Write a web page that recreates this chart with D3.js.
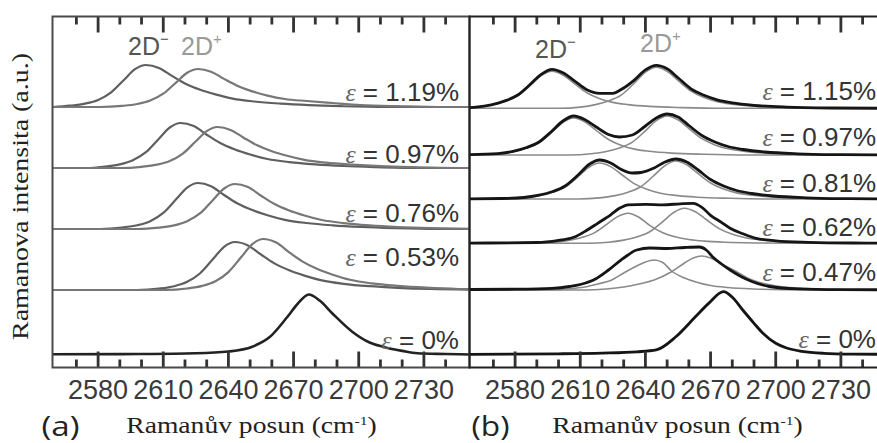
<!DOCTYPE html>
<html>
<head>
<meta charset="utf-8">
<script src="https://cdn.jsdelivr.net/npm/d3@7"></script>
<style>
  body { margin: 0; background: #fff; }
  svg { display: block; }
</style>
</head>
<body>
<svg id="chart" width="877" height="443" viewBox="0 0 877 443"></svg>
<script>
// --- data (wavenumber cm-1, intensity a.u. above each baseline) ---
const xDomain = [2559, 2751];
const majorTicks = [2580, 2610, 2640, 2670, 2700, 2730];
const minorTicks = [2570, 2590, 2600, 2620, 2630, 2650, 2660, 2680, 2690, 2710, 2720, 2740];

// panel (a): simulated 2D- / 2D+ bands
const strainA = ["1.19%", "0.97%", "0.76%", "0.53%", "0%"];
const offsetA = [26.1, 20.0, 13.9, 7.8, 1.35];

const a119Minus = [[2559,0],[2567,0.13],[2574,0.34],[2580,0.71],[2586,1.47],[2592,2.73],[2597,3.78],[2602,4.2],[2608,3.91],[2614,3.11],[2620,2.35],[2627,1.72],[2634,1.26],[2642,0.84],[2652,0.55],[2664,0.34],[2677,0.19],[2692,0.08],[2712,0],[2751,0]];
const a119Plus = [[2559,0],[2581,0],[2591,0.11],[2598,0.3],[2604,0.65],[2610,1.33],[2616,2.47],[2621,3.42],[2626,3.8],[2632,3.53],[2638,2.81],[2644,2.13],[2651,1.56],[2658,1.14],[2666,0.8],[2676,0.6],[2688,0.4],[2701,0.2],[2716,0.08],[2736,0],[2751,0]];
const a097Minus = [[2559,0],[2575,0],[2583,0.14],[2590,0.36],[2596,0.77],[2602,1.58],[2608,2.93],[2613,4.05],[2618,4.5],[2624,4.19],[2630,3.33],[2636,2.52],[2643,1.85],[2650,1.35],[2658,0.9],[2668,0.59],[2680,0.36],[2693,0.2],[2708,0.09],[2728,0],[2751,0]];
const a097Plus = [[2559,0],[2590,0],[2600,0.12],[2607,0.33],[2613,0.7],[2619,1.44],[2625,2.67],[2630,3.69],[2635,4.1],[2641,3.81],[2647,3.03],[2653,2.3],[2660,1.68],[2667,1.23],[2675,0.82],[2685,0.53],[2697,0.33],[2710,0.18],[2725,0.08],[2745,0],[2751,0]];
const a076Minus = [[2559,0],[2581,0],[2591,0.14],[2598,0.37],[2604,0.78],[2610,1.61],[2616,2.99],[2621,4.14],[2626,4.6],[2632,4.28],[2638,3.4],[2644,2.58],[2651,1.89],[2658,1.38],[2666,0.92],[2676,0.6],[2688,0.37],[2701,0.21],[2716,0.09],[2736,0],[2751,0]];
const a076Plus = [[2559,0],[2598,0],[2608,0.14],[2615,0.36],[2621,0.77],[2627,1.58],[2633,2.93],[2638,4.05],[2643,4.5],[2649,4.19],[2655,3.33],[2661,2.52],[2668,1.85],[2675,1.35],[2683,0.9],[2693,0.59],[2705,0.36],[2718,0.2],[2733,0.09],[2751,0.02]];
const a053Minus = [[2559,0],[2598,0],[2608,0.14],[2615,0.38],[2621,0.82],[2627,1.68],[2633,3.12],[2638,4.32],[2643,4.8],[2649,4.46],[2655,3.55],[2661,2.69],[2668,1.97],[2675,1.44],[2683,0.96],[2693,0.62],[2705,0.38],[2718,0.22],[2733,0.1],[2751,0.03]];
const a053Plus = [[2559,0],[2611,0],[2621,0.15],[2628,0.41],[2634,0.87],[2640,1.79],[2646,3.32],[2651,4.59],[2656,5.1],[2662,4.74],[2668,3.77],[2674,2.86],[2681,2.09],[2688,1.53],[2696,1.02],[2706,0.66],[2718,0.41],[2731,0.23],[2746,0.1],[2751,0.08]];
const a000 = [[2559,0.02],[2600,0.05],[2625,0.12],[2640,0.3],[2651,0.78],[2659,1.74],[2667,3.72],[2672,5.1],[2677,6.0],[2682,5.4],[2688,4.08],[2697,2.28],[2705,1.2],[2711,0.78],[2720,0.36],[2727,0.12],[2740,0.05],[2751,0]];

// panel (b): measured spectra and fitted components
const strainB = ["1.15%", "0.97%", "0.81%", "0.62%", "0.47%", "0%"];
const offsetB = [25.97, 21.3, 16.9, 12.47, 7.8, 1.37];

const b115Meas = [[2559,0.07],[2562,0.12],[2569,0.35],[2575,0.72],[2581,1.3],[2587,2.4],[2592,3.4],[2597,3.9],[2602,3.55],[2607,2.8],[2613,1.85],[2619,1.5],[2625,1.5],[2629,1.9],[2635,2.85],[2640,3.85],[2645,4.3],[2650,3.95],[2655,3.05],[2661,1.95],[2667,1.3],[2673,0.85],[2680,0.55],[2690,0.3],[2705,0.12],[2725,0.03],[2751,0]];
const b115Minus = [[2559,0.07],[2562,0.11],[2569,0.33],[2575,0.67],[2581,1.22],[2587,2.29],[2592,3.26],[2597,3.7],[2602,3.33],[2607,2.52],[2613,1.55],[2619,0.96],[2625,0.59],[2632,0.37],[2642,0.19],[2657,0.07],[2677,0],[2751,0]];
const b115Plus = [[2559,0],[2600,0],[2610,0.12],[2617,0.37],[2623,0.74],[2629,1.35],[2635,2.54],[2640,3.61],[2645,4.1],[2650,3.69],[2655,2.79],[2661,1.72],[2667,1.07],[2673,0.66],[2680,0.41],[2690,0.21],[2705,0.08],[2725,0],[2751,0]];
const b097Meas = [[2559,0.03],[2572,0.13],[2579,0.36],[2585,0.72],[2591,1.3],[2597,2.4],[2602,3.4],[2607,3.9],[2612,3.55],[2617,2.85],[2623,2.05],[2628,1.8],[2634,2.0],[2640,2.9],[2645,3.7],[2650,4.1],[2655,3.8],[2660,2.95],[2666,1.95],[2672,1.3],[2678,0.85],[2685,0.55],[2695,0.3],[2710,0.12],[2730,0.03],[2751,0]];
const b097Minus = [[2559,0.02],[2572,0.11],[2579,0.33],[2585,0.67],[2591,1.22],[2597,2.29],[2602,3.26],[2607,3.7],[2612,3.33],[2617,2.52],[2623,1.55],[2629,0.96],[2635,0.59],[2642,0.37],[2652,0.19],[2667,0.07],[2687,0],[2751,0]];
const b097Plus = [[2559,0],[2605,0],[2615,0.12],[2622,0.35],[2628,0.7],[2634,1.29],[2640,2.42],[2645,3.43],[2650,3.9],[2655,3.51],[2660,2.65],[2666,1.64],[2672,1.01],[2678,0.62],[2685,0.39],[2695,0.2],[2710,0.08],[2730,0],[2751,0]];
const b081Meas = [[2559,0.02],[2574,0.05],[2584,0.15],[2591,0.38],[2597,0.72],[2603,1.3],[2609,2.4],[2614,3.45],[2619,3.9],[2624,3.6],[2629,2.95],[2634,2.6],[2638,2.65],[2644,3.1],[2649,3.7],[2654,4.0],[2659,3.7],[2664,2.95],[2670,1.95],[2676,1.3],[2682,0.85],[2689,0.55],[2699,0.3],[2714,0.12],[2734,0.03],[2751,0]];
const b081Minus = [[2559,0],[2574,0.02],[2584,0.11],[2591,0.32],[2597,0.65],[2603,1.19],[2609,2.23],[2614,3.17],[2619,3.6],[2624,3.24],[2629,2.45],[2635,1.51],[2641,0.94],[2647,0.58],[2654,0.36],[2664,0.18],[2679,0.07],[2699,0],[2751,0]];
const b081Plus = [[2559,0],[2609,0],[2619,0.11],[2626,0.34],[2632,0.68],[2638,1.25],[2644,2.36],[2649,3.34],[2654,3.8],[2659,3.42],[2664,2.58],[2670,1.6],[2676,0.99],[2682,0.61],[2689,0.38],[2699,0.19],[2714,0.08],[2734,0],[2751,0]];
const b062Meas = [[2559,0.02],[2590,0.08],[2600,0.3],[2607,0.6],[2613,1.3],[2618,2.0],[2624,2.85],[2628,3.5],[2632,3.85],[2640,3.9],[2648,3.85],[2656,3.95],[2662,4.0],[2666,3.6],[2670,2.8],[2675,2.1],[2679,1.5],[2685,0.95],[2691,0.5],[2700,0.25],[2715,0.1],[2735,0.03],[2751,0.02]];
const b062Minus = [[2559,0],[2587,0],[2597,0.09],[2604,0.27],[2610,0.54],[2616,0.99],[2622,1.86],[2627,2.64],[2632,3.0],[2637,2.6],[2642,1.8],[2648,1.05],[2654,0.62],[2660,0.38],[2667,0.22],[2677,0.1],[2692,0.03],[2712,0],[2751,0]];
const b062Plus = [[2559,0],[2613,0],[2623,0.11],[2630,0.32],[2636,0.63],[2642,1.16],[2648,2.17],[2653,3.08],[2658,3.5],[2663,3.15],[2668,2.38],[2674,1.47],[2680,0.91],[2686,0.56],[2693,0.35],[2703,0.18],[2718,0.07],[2738,0],[2751,0]];
const b047Meas = [[2559,0.05],[2580,0.08],[2597,0.17],[2605,0.35],[2610,0.55],[2617,1.1],[2623,2.0],[2630,3.2],[2636,4.0],[2642,4.2],[2650,4.15],[2658,4.25],[2665,4.3],[2668,4.0],[2671,3.3],[2675,2.6],[2679,2.0],[2684,1.35],[2689,0.85],[2697,0.35],[2710,0.12],[2730,0.04],[2751,0.02]];
const b047Minus = [[2559,0],[2595,0],[2605,0.12],[2612,0.3],[2618,0.6],[2624,0.95],[2630,1.7],[2636,2.4],[2640,2.8],[2644,3.0],[2648,2.75],[2652,1.9],[2658,1.2],[2664,0.75],[2670,0.45],[2678,0.25],[2690,0.1],[2705,0.03],[2725,0],[2751,0]];
const b047Plus = [[2559,0],[2612,0],[2622,0.1],[2630,0.3],[2637,0.6],[2644,1.0],[2652,1.83],[2658,2.7],[2662,3.2],[2666,3.4],[2670,3.2],[2676,2.5],[2682,1.83],[2688,1.1],[2694,0.67],[2702,0.35],[2714,0.15],[2730,0.05],[2751,0]];
const b000Meas = [[2559,0],[2600,0.05],[2620,0.12],[2636,0.25],[2645,0.44],[2654,1.75],[2663,3.75],[2669,5.07],[2676,6.26],[2680,5.7],[2685,4.38],[2690,3.1],[2694,2.13],[2700,1.1],[2705,0.63],[2712,0.3],[2722,0.1],[2735,0.02],[2751,0]];

// --- layout ---
const panelW = 417, frameTop = 16.5, frameBottom = 367.5;
const labelLiftA = [6, 5, 7, 24, 6];
const labelLiftB = [8, 9, 7, 7, 9, 6];
const sans = "'Liberation Sans', Arial, Helvetica, sans-serif";
const serif = "'Liberation Serif', 'Times New Roman', serif";

const svg = d3.select("#chart");
const y = d3.scaleLinear().domain([0, 35.2]).range([368, 16]);

const rowsA = strainA.map((s, i) => ({
  strain: s, offset: offsetA[i],
  comps: [[a119Minus, a097Minus, a076Minus, a053Minus, null][i], [a119Plus, a097Plus, a076Plus, a053Plus, null][i]],
  main: i === 4 ? a000 : null
}));
const rowsB = strainB.map((s, i) => ({
  strain: s, offset: offsetB[i],
  comps: [[b115Minus, b097Minus, b081Minus, b062Minus, b047Minus, null][i], [b115Plus, b097Plus, b081Plus, b062Plus, b047Plus, null][i]],
  main: [b115Meas, b097Meas, b081Meas, b062Meas, b047Meas, b000Meas][i]
}));

function drawPanel(x0, rows, opt) {
  const x = d3.scaleLinear().domain(xDomain).range([x0, x0 + panelW]);
  const g = svg.append("g");

  rows.forEach((r, i) => {
    const line = d3.line()
      .x(d => x(d[0]))
      .y(d => y(r.offset + d[1]))
      .curve(d3.curveMonotoneX);
    r.comps.forEach((c, k) => {
      if (!c) return;
      g.append("path").attr("d", line(c))
        .attr("fill", "none")
        .attr("stroke", opt.compColor[k])
        .attr("stroke-width", opt.compWidth);
    });
    if (r.main) {
      g.append("path").attr("d", line(r.main))
        .attr("fill", "none")
        .attr("stroke", opt.mainColor)
        .attr("stroke-width", opt.mainWidth)
        .attr("stroke-linejoin", "round");
    }

    const t = g.append("text")
      .attr("x", opt.labelRight)
      .attr("y", y(r.offset) - opt.lift[i])
      .attr("text-anchor", "end")
      .attr("font-family", sans)
      .attr("font-size", 26)
      .attr("fill", "#333");
    t.append("tspan").attr("font-family", serif).attr("font-style", "italic")
      .attr("fill", "#666").text("ε");
    t.append("tspan").text((r.strain === "0.81%" ? "  = " : " = ") + r.strain);
  });

  // inward ticks on the top and bottom edges
  const tickRun = (vals, y0, dir) => {
    let d = "";
    vals.forEach(v => {
      const len = majorTicks.includes(v) ? 16 : 8;
      d += `M${x(v)},${y0}L${x(v)},${y0 + dir * len}`;
    });
    return d;
  };
  const allTicks = majorTicks.concat(minorTicks).sort((a, b) => a - b);
  g.append("path")
    .attr("d", tickRun(allTicks, frameBottom, -1) + tickRun(allTicks, frameTop, 1))
    .attr("fill", "none")
    .attr("stroke", "#333")
    .attr("stroke-width", 2.8);

  g.selectAll(null).data(majorTicks).join("text")
    .attr("x", d => x(d)).attr("y", 399)
    .attr("text-anchor", "middle")
    .attr("font-family", sans)
    .attr("font-size", 27)
    .attr("fill", "#3a3a3a")
    .text(d => d);

  // frame
  g.append("rect")
    .attr("x", x0).attr("y", frameTop)
    .attr("width", panelW).attr("height", frameBottom - frameTop)
    .attr("fill", "none").attr("stroke", opt.frameColor).attr("stroke-width", 2);

  // 2D- / 2D+ markers
  opt.bandLabels.forEach(b => {
    const t = g.append("text")
      .attr("x", b.x).attr("y", b.y)
      .attr("font-family", sans).attr("font-size", 25)
      .attr("fill", b.color);
    t.append("tspan").text("2D");
    t.append("tspan").attr("font-size", 15).attr("dy", -11).text(b.sup);
  });

  // x axis title
  const title = g.append("text")
    .attr("transform", `translate(${x0 + opt.titleDx},433) scale(1.2,1)`)
    .attr("text-anchor", "middle")
    .attr("font-family", serif)
    .attr("font-size", 23)
    .attr("fill", "#222");
  title.append("tspan").text("Ramanův posun (cm");
  title.append("tspan").attr("font-size", 13).attr("dy", -8).text("-1");
  title.append("tspan").attr("dy", 8).text(")");

  g.append("text")
    .attr("x", x0 + opt.tagDx).attr("y", 436)
    .attr("font-family", "'Open Sans', sans-serif")
    .attr("font-size", 27)
    .attr("textLength", 38).attr("lengthAdjust", "spacingAndGlyphs")
    .attr("fill", "#222")
    .text(opt.tag);
}

drawPanel(52.5, rowsA, {
  compColor: ["#5f5f5f", "#777"], compWidth: 2.2,
  mainColor: "#222", mainWidth: 2.6,
  labelRight: 459, lift: labelLiftA,
  frameColor: "#4a4a4a",
  bandLabels: [
    { x: 128, y: 55, color: "#555", sup: "−" },
    { x: 181, y: 55, color: "#999", sup: "+" }
  ],
  titleDx: 199, tagDx: -11, tag: "(a)"
});

drawPanel(469.5, rowsB, {
  compColor: ["#8a8a8a", "#8a8a8a"], compWidth: 1.6,
  mainColor: "#151515", mainWidth: 2.8,
  labelRight: 876, lift: labelLiftB,
  frameColor: "#222",
  bandLabels: [
    { x: 535, y: 58, color: "#555", sup: "−" },
    { x: 640, y: 52, color: "#999", sup: "+" }
  ],
  titleDx: 208, tagDx: 2, tag: "(b)"
});

// y axis title
svg.append("text")
  .attr("transform", "translate(28,196.5) rotate(-90)")
  .attr("text-anchor", "middle")
  .attr("font-family", serif)
  .attr("font-size", 23)
  .attr("textLength", 287).attr("lengthAdjust", "spacingAndGlyphs")
  .attr("fill", "#222")
  .text("Ramanova intensita (a.u.)");
</script>
</body>
</html>
